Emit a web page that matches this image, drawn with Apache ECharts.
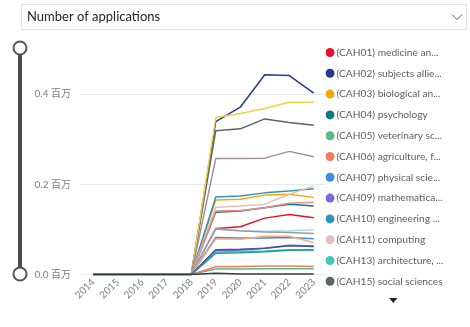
<!DOCTYPE html>
<html>
<head>
<meta charset="utf-8">
<script src="https://cdn.jsdelivr.net/npm/echarts@6/dist/echarts.min.js"></script>
<style>
html,body{margin:0;padding:0;background:#fff;}
#chart{width:470px;height:327px;}
</style>
</head>
<body>
<div id="chart"></div>
<script>
// ---- Data ----
const years = ['2014','2015','2016','2017','2018','2019','2020','2021','2022','2023'];
const yTickValues = [0, 200000, 400000];

const seriesNames = [
  '(CAH01) medicine and dentistry',
  '(CAH02) subjects allied to medicine',
  '(CAH03) biological and sport sciences',
  '(CAH04) psychology',
  '(CAH05) veterinary sciences',
  '(CAH06) agriculture, food and related studies',
  '(CAH07) physical sciences',
  '(CAH09) mathematical sciences',
  '(CAH10) engineering and technology',
  '(CAH11) computing',
  '(CAH13) architecture, building and planning',
  '(CAH15) social sciences',
  '(CAH16) law',
  '(CAH17) business and management',
  '(CAH19) language and area studies',
  '(CAH20) historical, philosophical and religious studies',
  '(CAH22) education and teaching',
  '(CAH23) combined and general studies',
  '(CAH24) media, journalism and communications',
  '(CAH25) design, and creative and performing arts',
  '(CAH26) geography, earth and environmental studies'
];

const cah01 = [0,0,0,0,0,102000,106000,125000,133000,126000];
const cah02 = [0,0,0,0,0,339000,371000,443000,441000,402000];
const cah03 = [0,0,0,0,0,165000,167000,176000,178000,171000];
const cah04 = [0,0,0,0,0,138000,141000,148000,156000,152000];
const cah05 = [0,0,0,0,0,12000,12000,13000,13000,13000];
const cah06 = [0,0,0,0,0,17000,18000,19000,19000,18000];
const cah07 = [0,0,0,0,0,82000,81000,81000,82000,79000];
const cah09 = [0,0,0,0,0,53000,54000,58000,65000,63000];
const cah10 = [0,0,0,0,0,172000,174000,181000,185000,190000];
const cah11 = [0,0,0,0,0,149000,152000,156000,178000,196000];
const cah13 = [0,0,0,0,0,50000,51000,52000,55000,54000];
const cah15 = [0,0,0,0,0,319000,323000,345000,337000,331000];
const cah16 = [0,0,0,0,0,141000,142000,148000,158000,160000];
const cah17 = [0,0,0,0,0,348000,357000,368000,382000,382000];
const cah19 = [0,0,0,0,0,101000,97000,96000,97000,99000];
const cah20 = [0,0,0,0,0,101000,97000,94000,93000,91000];
const cah22 = [0,0,0,0,0,79000,78000,85000,85000,71000];
const cah23 = [0,0,0,0,0,3000,1000,1000,1000,1000];
const cah24 = [0,0,0,0,0,55000,56000,58000,64000,62000];
const cah25 = [0,0,0,0,0,257000,257000,258000,273000,261000];
const cah26 = [0,0,0,0,0,47000,48000,50500,54000,55000];

const seriesValues = [cah01,cah02,cah03,cah04,cah05,cah06,cah07,cah09,cah10,cah11,cah13,cah15,
                      cah16,cah17,cah19,cah20,cah22,cah23,cah24,cah25,cah26];

// ---- Styles ----
const palette = ['#E8112D','#233B93','#F7A900','#10797A','#5CB78B','#F47B5C','#3D8FDC','#7B68E0',
                 '#2E94B9','#E4BFBF','#48C7BE','#5B6467','#F08A8A','#F5CF45','#A8D8EC','#9A9A9A',
                 '#F9A97E','#2F3E46','#4A4FA8','#A28F93','#16A085'];
const FONT = "Lato, 'Noto Sans CJK SC', sans-serif";

const chart = echarts.init(document.getElementById('chart'), null, {renderer:'canvas'});

const series = seriesNames.map((name, i) => ({
  name: name,
  type: 'line',
  data: seriesValues[i],
  symbol: 'none',
  showSymbol: false,
  z: name.indexOf('CAH23') >= 0 ? 5 : 2,
  lineStyle: { width: 1.5, color: palette[i] },
  itemStyle: { color: palette[i] },
  emphasis: { disabled: true }
}));

chart.setOption({
  animation: false,
  backgroundColor: '#fff',
  title: {
    text: 'Number of applications',
    left: 27, top: 10, padding: 0,
    textStyle: { fontSize: 13, fontWeight: 'normal', color: '#252423', fontFamily: FONT }
  },
  graphic: [
    { type: 'rect', z: -1, shape: { x: 21.5, y: 4.5, width: 445, height: 25 },
      style: { fill: '#fff', stroke: '#E3E3E3', lineWidth: 1 } },
    { type: 'polyline', shape: { points: [[452,14.5],[457,19.5],[462,14.5]] },
      style: { stroke: '#605E5C', lineWidth: 1, fill: null } },
    { type: 'rect', shape: { x: 18, y: 48, width: 4, height: 226 },
      style: { fill: '#4A4A4A' } },
    { type: 'circle', shape: { cx: 20, cy: 48, r: 6.5 },
      style: { fill: '#fff', stroke: '#555', lineWidth: 2 } },
    { type: 'circle', shape: { cx: 20, cy: 274, r: 6.5 },
      style: { fill: '#fff', stroke: '#555', lineWidth: 2 } }
  ],
  legend: {
    type: 'scroll',
    orient: 'vertical',
    left: 325.5, top: 46.5, height: 258,
    padding: 0,
    icon: 'circle',
    itemWidth: 9, itemHeight: 9, itemGap: 8.8,
    textStyle: { color: '#605E5C', fontSize: 10.2, fontFamily: FONT, width: 108,
                 overflow: 'truncate', ellipsis: '...', lineHeight: 12, padding: [0,0,0,-3] },
    pageIcons: { vertical: ['path://M0,0L10,0L5,-6z', 'path://M0,0L10,0L5,6z'] },
    pageIconSize: [9, 5],
    pageIconColor: '#222',
    pageIconInactiveColor: 'rgba(0,0,0,0)',
    pageFormatter: ' ',
    pageTextStyle: { color: 'rgba(0,0,0,0)', fontSize: 8 },
    pageButtonItemGap: -5,
    pageButtonGap: 8,
    selectedMode: false
  },
  grid: { left: 81, right: 144, top: 49, bottom: 52.5, outerBoundsMode: 'none' },
  xAxis: {
    type: 'category',
    data: years,
    boundaryGap: true,
    axisLine: { show: false },
    axisTick: { show: false },
    axisLabel: { rotate: 45, interval: 0, color: '#7F7F7F', fontSize: 10, fontFamily: FONT, margin: 6 }
  },
  yAxis: {
    type: 'value',
    min: 0, max: 500000, interval: 200000,
    axisLine: { show: false },
    axisTick: { show: false },
    splitLine: { show: true, showMaxLine: false, lineStyle: { color: '#E8E8E8', width: 1 } },
    axisLabel: {
      showMaxLabel: false,
      color: '#7F7F7F', fontSize: 10, fontFamily: FONT, margin: 10,
      formatter: v => (yTickValues.indexOf(v) >= 0 ? (v / 1000000).toFixed(1) + ' 百万' : '')
    }
  },
  series: series
});
</script>
</body>
</html>
